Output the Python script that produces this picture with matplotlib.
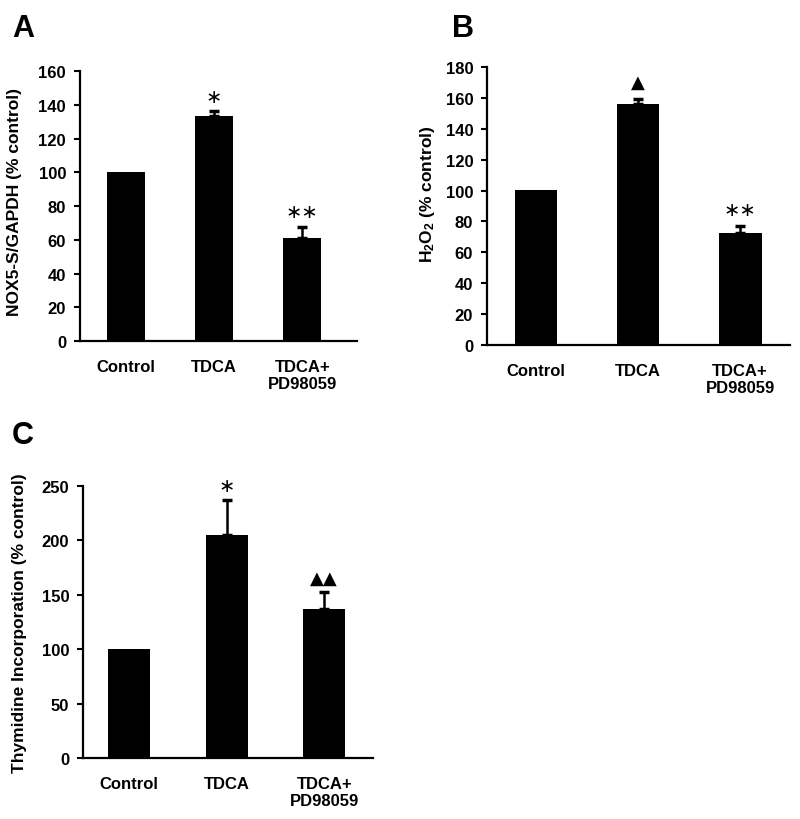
import numpy as np
import matplotlib
matplotlib.use("Agg")
from matplotlib import pyplot as plt

plt.rcParams['font.family'] = ['Liberation Sans', 'DejaVu Sans']
plt.rcParams['font.weight'] = 'bold'
plt.rcParams['mathtext.fontset'] = 'custom'
plt.rcParams['mathtext.rm'] = 'Liberation Sans:bold'
plt.rcParams['mathtext.bf'] = 'Liberation Sans:bold'
plt.rcParams['mathtext.default'] = 'bf'

## data
groups = ['Control', 'TDCA', 'TDCA+\nPD98059']
nox_mean = [100, 133.5, 60.8]
nox_err = [0, 2.5, 7.0]
nox_marks = ['', '*', '**']
h2o2_mean = [100.5, 156.2, 72.3]
h2o2_err = [0, 3.2, 4.5]
h2o2_marks = ['', '\u25B2', '**']
thy_mean = [100.5, 204.8, 136.8]
thy_err = [0, 32.0, 15.5]
thy_marks = ['', '*', '\u25B2\u25B2']

fig = plt.figure(figsize=(8, 8.2), dpi=100)

def panel(rect, means, errs, marks, ymax, ystep, xlim, width, ylabel, lab_xy, letter, letter_xy, mark_off):
    ax = fig.add_axes(rect)
    x = np.arange(len(means))
    ax.bar(x, means, width=width, color='black', edgecolor='none', zorder=2)
    ax.errorbar(x[1:], means[1:], yerr=[np.zeros(len(means)-1), errs[1:]], fmt='none',
                ecolor='black', elinewidth=1.8, capsize=3.5, capthick=2.5, zorder=1)
    for xi, m, e, s in zip(x, means, errs, marks):
        if not s:
            continue
        if '\u25B2' in s:
            ax.text(xi, m + e + mark_off, s, ha='center', va='center', fontsize=13,
                    family='DejaVu Sans')
        else:
            ax.text(xi, m + e + mark_off, s.replace('*', '\u2217'), ha='center', va='center', fontsize=14,
                    family='DejaVu Sans', fontweight='normal')
    ax.set_xlim(*xlim)
    ax.set_ylim(0, ymax)
    ax.set_yticks(np.arange(0, ymax + 1, ystep))
    ax.set_xticks(x)
    ax.set_xticklabels(groups, fontsize=12, fontweight='bold')
    ax.tick_params(axis='x', length=0, pad=13)
    ax.tick_params(axis='y', length=4, width=1.5, pad=6, labelsize=12)
    for t in ax.get_yticklabels():
        t.set_fontweight('bold')
    for sp in ['top', 'right']:
        ax.spines[sp].set_visible(False)
    for sp in ['left', 'bottom']:
        ax.spines[sp].set_linewidth(1.6)
    ax.set_ylabel(ylabel, fontsize=12.5, fontweight='bold')
    ax.yaxis.set_label_coords(*lab_xy)
    fig.text(letter_xy[0], letter_xy[1], letter, fontsize=22, fontweight='bold', va='top', ha='left')
    return ax

panel([0.1, 0.5829, 0.3463, 0.3293], nox_mean, nox_err, nox_marks, 160, 20,
      (-0.52, 2.62), 0.43, 'NOX5-S/GAPDH (% control)', (-0.209, 0.517), 'A', (0.015, 0.983), 9)
panel([0.6088, 0.5784, 0.3788, 0.3383], h2o2_mean, h2o2_err, h2o2_marks, 180, 20,
      (-0.48, 2.49), 0.42, r'H$_2$O$_2$ (% control)', (-0.165, 0.547), 'B', (0.565, 0.983), 11)
panel([0.1038, 0.0744, 0.3625, 0.3321], thy_mean, thy_err, thy_marks, 250, 50,
      (-0.47, 2.5), 0.43, 'Thymidine Incorporation (% control)', (-0.193, 0.5), 'C', (0.015, 0.486), 13)

fig.savefig('out.png', dpi=100)
